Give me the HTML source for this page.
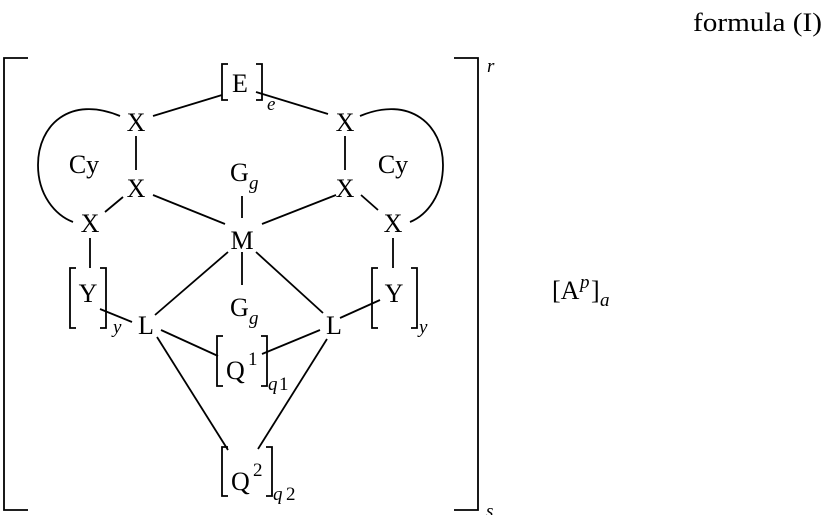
<!DOCTYPE html>
<html><head><meta charset="utf-8"><style>
html,body{margin:0;padding:0;background:#fff;width:824px;height:515px;overflow:hidden}
svg text{font-family:"Liberation Serif",serif;font-size:26px;fill:#000}
.i{font-style:italic}
.s{font-size:19px}
</style></head><body>
<svg width="824" height="515" viewBox="0 0 824 515" xmlns="http://www.w3.org/2000/svg">
<g stroke="#000" stroke-width="1.8" fill="none">
<polyline points="28,58 4,58 4,510 28,510"/>
<polyline points="454,58 478,58 478,510 454,510"/>
<polyline points="228,64 222,64 222,100 228,100"/>
<polyline points="256,64 262,64 262,100 256,100"/>
<polyline points="76,268 70,268 70,328 76,328"/>
<polyline points="100,268 106,268 106,328 100,328"/>
<polyline points="378,268 372,268 372,328 378,328"/>
<polyline points="411,268 417,268 417,328 411,328"/>
<polyline points="223,336 217,336 217,386 223,386"/>
<polyline points="261,336 267,336 267,386 261,386"/>
<polyline points="228,447 222,447 222,496 228,496"/>
<polyline points="266,447 272,447 272,496 266,496"/>
<line x1="153" y1="116" x2="222" y2="95"/>
<line x1="256" y1="92" x2="328" y2="114"/>
<line x1="136" y1="136" x2="136" y2="170"/>
<line x1="345" y1="136" x2="345" y2="170"/>
<path d="M120,116 C70,95 38,125 38,165 C38,195 55,215 73,222"/>
<path d="M360,116 C410,95 443,125 443,165 C443,195 427,215 410,222"/>
<line x1="123" y1="197" x2="105" y2="212"/>
<line x1="153" y1="195" x2="225" y2="224"/>
<line x1="336" y1="195" x2="262" y2="224"/>
<line x1="361" y1="195" x2="378" y2="210"/>
<line x1="242" y1="196" x2="242" y2="218"/>
<line x1="90" y1="238" x2="90" y2="268"/>
<line x1="393" y1="238" x2="393" y2="268"/>
<line x1="228" y1="252" x2="155" y2="315"/>
<line x1="242" y1="252" x2="242" y2="285"/>
<line x1="256" y1="252" x2="323" y2="313"/>
<line x1="100" y1="309" x2="132" y2="322"/>
<line x1="340" y1="318" x2="380" y2="300"/>
<line x1="161" y1="330" x2="218" y2="356"/>
<line x1="262" y1="354" x2="320" y2="330"/>
<line x1="157" y1="337" x2="228" y2="450"/>
<line x1="327" y1="339" x2="258" y2="449"/>
</g>
<text x="693" y="31" textLength="129" lengthAdjust="spacingAndGlyphs">formula (I)</text>
<text x="487" y="72" class="i s">r</text>
<text x="486" y="517" class="i s">s</text>
<text x="240" y="92" text-anchor="middle">E</text>
<text x="267" y="110" class="i s">e</text>
<text x="136" y="131" text-anchor="middle">X</text>
<text x="345" y="131" text-anchor="middle">X</text>
<text x="84" y="173" text-anchor="middle">Cy</text>
<text x="393" y="173" text-anchor="middle">Cy</text>
<text x="230" y="181">G</text><text x="249" y="189" class="i s">g</text>
<text x="136" y="197" text-anchor="middle">X</text>
<text x="345" y="197" text-anchor="middle">X</text>
<text x="90" y="232" text-anchor="middle">X</text>
<text x="393" y="232" text-anchor="middle">X</text>
<text x="242" y="249" text-anchor="middle">M</text>
<text x="88" y="302" text-anchor="middle">Y</text>
<text x="394" y="302" text-anchor="middle">Y</text>
<text x="113" y="333" class="i s">y</text>
<text x="419" y="333" class="i s">y</text>
<text x="230" y="316">G</text><text x="249" y="324" class="i s">g</text>
<text x="146" y="334" text-anchor="middle">L</text>
<text x="334" y="334" text-anchor="middle">L</text>
<text x="226" y="379">Q</text><text x="248" y="365" class="s">1</text>
<text x="268" y="390" class="i s">q</text><text x="279" y="390" class="s">1</text>
<text x="231" y="490">Q</text><text x="253" y="476" class="s">2</text>
<text x="273" y="500" class="i s">q</text><text x="286" y="500" class="s">2</text>
<text x="552" y="299">[A</text><text x="580" y="288" class="i s">p</text><text x="591" y="299">]</text><text x="600" y="306" class="i s">a</text>
</svg>
</body></html>
